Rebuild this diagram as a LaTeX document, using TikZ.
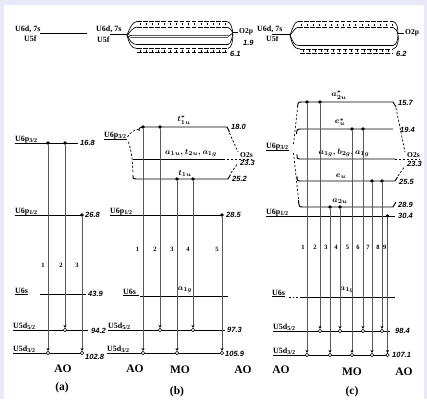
\documentclass[tikz,border=0pt]{standalone}
\usepackage{fontspec}
\setmainfont{Liberation Serif}
\newfontfamily\numfont{Liberation Sans}
\usetikzlibrary{arrows.meta}
\definecolor{bgc}{RGB}{231,233,249}
\newcommand{\tickband}[4]{%
  \draw[line width=0.65pt, dash pattern=on 4.5pt off 1.6pt] (#1,#3) -- (#2,#3);
  \draw[line width=0.65pt, dash pattern=on 4.5pt off 1.6pt] (#1,#4) -- (#2,#4);
  \draw[line width=2.0pt, dash pattern=on 0.8pt off 5.3pt] (#1+2.5,{(#3+#4)/2}) -- (#2,{(#3+#4)/2});
}
\tikzset{
  lvl/.style={line width=0.95pt},
  trn/.style={line width=1pt, draw=black!65, -{Stealth[length=2.8pt,width=3pt,black]}},
  fdot/.style={circle, fill=black, inner sep=0pt, minimum size=3.8pt},
  odot/.style={circle, draw=black, fill=white, line width=0.6pt, inner sep=0pt, minimum size=3.6pt},
  lab/.style={font=\bfseries\fontsize{8}{9}\selectfont, inner sep=0pt},
  num/.style={font=\numfont\bfseries\itshape\fontsize{7.5}{8}\selectfont, inner sep=0pt, anchor=west},
  tnum/.style={font=\bfseries\fontsize{6.5}{7}\selectfont, inner sep=0pt},
  orb/.style={font=\boldmath\fontsize{8}{9}\selectfont, inner sep=0pt},
  bigl/.style={font=\bfseries\fontsize{11.5}{13}\selectfont, inner sep=0pt},
  dsh/.style={line width=0.7pt, dash pattern=on 2.2pt off 1.8pt},
  thk/.style={line width=0.9pt, double distance=0.9pt},
  thn/.style={line width=0.65pt}
}
\begin{document}
\begin{tikzpicture}[x=1pt,y=-1pt]
\useasboundingbox (0,0) rectangle (427,399);
\fill[bgc] (0,0) rectangle (427,399);
\fill[white] (4,5) rectangle (424,399);

%%%%%%%%%%%%%%%% PANEL A %%%%%%%%%%%%%%%%
\node[lab,anchor=south west] (aUd) at (15,32.5) {U6d, 7s};
\node[lab,anchor=north west] (aUf) at (24,35.5) {U5f};
\coordinate (aT1) at (40,34); \coordinate (aT2) at (87,34);
\draw[thk] (aT1) -- (aT2);

\node[lab,anchor=south west] (aP3) at (15,143) {U6p\textsubscript{3/2}};
\coordinate (aP3e) at (78,143);
\draw[lvl] (aP3.south west) -- (aP3e);
\node[num] (aP3n) at (80,143) {16.8};

\node[lab,anchor=south west] (aP1) at (15,215) {U6p\textsubscript{1/2}};
\coordinate (aP1e) at (82,215);
\draw[lvl] (aP1.south west) -- (aP1e);
\node[num] (aP1n) at (85,215) {26.8};

\node[lab,anchor=south west] (aS) at (15,294) {U6s};
\draw[lvl] (aS.south west) -- (aS.south east);
\coordinate (aSa) at (40,294); \coordinate (aSb) at (86,294);
\draw[lvl] (aSa) -- (aSb);
\node[num] (aSn) at (88,294) {43.9};

\node[lab,anchor=south west] (aD5) at (13,330) {U5d\textsubscript{5/2}};
\coordinate (aD5e) at (88,330);
\draw[lvl] (aD5.south west) -- (aD5e);
\node[num] (aD5n) at (91,331) {94.2};

\node[lab,anchor=south west] (aD3) at (13,353) {U5d\textsubscript{3/2}};
\coordinate (aD3e) at (82,353);
\draw[lvl] (aD3.south west) -- (aD3e);
\node[num] (aD3n) at (85,357) {102.8};

\node[fdot] (a1s) at (48,143) {};
\node[fdot] (a2s) at (65,143) {};
\node[fdot] (a3s) at (82,215) {};
\node[odot] (a2e) at (65,330) {};
\node[odot] (a1e) at (48,353) {};
\node[odot] (a3e) at (82,353) {};
\draw[trn] (a1s) -- (a1e);
\draw[trn] (a2s) -- (a2e);
\draw[trn] (a3s) -- (a3e);
\node[tnum] (at1) at (43,265) {1};
\node[tnum] (at2) at (61,265) {2};
\node[tnum] (at3) at (77,265) {3};

\node[bigl] (aAO) at (63,369) {AO};
\node[bigl] (aCap) at (62,388) {(a)};

%%%%%%%%%%%%%%%% PANEL B %%%%%%%%%%%%%%%%
\node[lab,anchor=south west] (bUd) at (96,33) {U6d, 7s};
\node[lab,anchor=north west] (bUf) at (97,37) {U5f};
\coordinate (bT0) at (110,35); \coordinate (bJ) at (127,35);
\draw[thk] (bT0) -- (bJ);
\tickband{137}{227}{21.5}{27}
\draw[thn] (bJ) .. controls (130,28) and (132,22) .. (137,21.5);
\draw[thn] (bJ) .. controls (131,31) and (133,27.5) .. (137,27);
\draw[thk,line width=0.7pt] (bJ) .. controls (130,36.5) .. (136,36.5) -- (228,36.5);
\draw[thn] (bJ) .. controls (130,41) and (132,44.5) .. (137,44.5) -- (228,44.5);
\tickband{137}{228}{48.5}{52.5}
\draw[thn] (bJ) .. controls (129,43) and (131,48.5) .. (137,48.5);
\coordinate (bK) at (233,33);
\draw[thn] (227,21.5) .. controls (231,22) and (232,28) .. (bK);
\draw[thn] (227,27) .. controls (230,27.5) and (231,30) .. (bK);
\draw[thn] (228,36.5) -- (bK);
\draw[thn] (228,44.5) .. controls (231,44) and (232,38) .. (bK);
\draw[thn] (228,48.5) .. controls (232,48) and (233,40) .. (bK);
\coordinate (bK2) at (238,33);
\draw[thk] (bK) -- (bK2);
\node[num,font=\bfseries\fontsize{7.5}{8}\selectfont] (bO2p) at (239,32) {O2p};
\node[num] (bn19) at (243,43) {1.9};
\node[num] (bn61) at (230,54) {6.1};

\node[lab,anchor=south west] (bP3) at (104,139) {U6p\textsubscript{3/2}};
\draw[lvl] (bP3.south west) -- (bP3.south east);

\coordinate (bL1a) at (142,127); \coordinate (bL1b) at (227,127);
\draw[lvl] (139,131) .. controls (139,128) .. (bL1a) -- (bL1b) -- (229.5,132);
\node[orb] (bL1t) at (184,120) {$t_{1u}^{*}$};
\node[num] (bL1n) at (231,127) {18.0};

\coordinate (bL2a) at (133,159); \coordinate (bL2b) at (223,159);
\draw[lvl] (bL2a) -- (bL2b);
\coordinate (bL2c) at (252,159);
\draw[dsh,line width=0.9pt] (bL2b) -- (bL2c);
\node[orb] (bL2t) at (191,153) {$a_{1u}, t_{2u}, a_{1g}$};
\node[lab,anchor=south west,font=\bfseries\fontsize{7.5}{8}\selectfont] (bO2s) at (240,158) {O2s};
\node[num] (bn233) at (240,163) {23.3};

\coordinate (bL3a) at (136,179); \coordinate (bL3b) at (228,179);
\draw[lvl] (133,175) .. controls (133,179) .. (bL3a) -- (bL3b) -- (230.5,174.5);
\node[orb] (bL3t) at (185,173) {$t_{1u}$};
\node[num] (bL3n) at (232,179) {25.2};

\coordinate (bO) at (238,152);
\coordinate (bO3) at (238,163);
\draw[dsh] (229.5,133) -- (bO);
\draw[dsh] (231,173) -- (bO3);
\coordinate (bPL) at (127.5,137);
\coordinate (bPL2) at (128.5,142);
\draw[dsh] (bPL) .. controls (132,131) .. (139,129);
\draw[dsh] (bPL2) .. controls (132,155) .. (133,173);

\node[lab,anchor=south west] (bP1) at (110,215) {U6p\textsubscript{1/2}};
\coordinate (bP1e) at (222,215);
\draw[lvl] (bP1.south west) -- (bP1e);
\node[num] (bP1n) at (226,215) {28.5};

\node[lab,anchor=south west] (bS) at (123,295) {U6s};
\draw[lvl] (bS.south west) -- (bS.south east);
\draw[lvl] (135,295.5) -- (138.5,295.5);
\coordinate (bSa) at (140,296); \coordinate (bSb) at (228,296);
\draw[lvl] (bSa) -- (bSb);
\node[orb] (bSt) at (185,290) {$a_{1g}$};

\node[lab,anchor=south west] (bD5) at (108,330) {U5d\textsubscript{5/2}};
\coordinate (bD5e) at (225,330);
\draw[lvl] (bD5.south west) -- (bD5e);
\node[num] (bD5n) at (227,330) {97.3};

\node[lab,anchor=south west] (bD3) at (107,353) {U5d\textsubscript{3/2}};
\coordinate (bD3e) at (222,353);
\draw[lvl] (bD3.south west) -- (bD3e);
\node[num] (bD3n) at (225,354) {105.9};

\node[fdot] (b1s) at (143,127) {};
\node[fdot] (b2s) at (160,127) {};
\node[fdot] (b3s) at (177,179) {};
\node[fdot] (b4s) at (193,179) {};
\node[fdot] (b5s) at (222,215) {};
\node[odot] (b2e) at (160,330) {};
\node[odot] (b4e) at (193,330) {};
\node[odot] (b1e) at (143,353) {};
\node[odot] (b3e) at (177,353) {};
\node[odot] (b5e) at (222,353) {};
\draw[trn] (b1s) -- (b1e);
\draw[trn] (b2s) -- (b2e);
\draw[trn] (b3s) -- (b3e);
\draw[trn] (b4s) -- (b4e);
\draw[trn] (b5s) -- (b5e);
\node[tnum] (bt1) at (137.5,249) {1};
\node[tnum] (bt2) at (155,249) {2};
\node[tnum] (bt3) at (172,249) {3};
\node[tnum] (bt4) at (188,249) {4};
\node[tnum] (bt5) at (217,249) {5};

\node[bigl] (bAOl) at (135,369) {AO};
\node[bigl] (bMO) at (180,370) {MO};
\node[bigl] (bAOr) at (243,370) {AO};
\node[bigl] (bCap) at (177,392) {(b)};

%%%%%%%%%%%%%%%% PANEL C %%%%%%%%%%%%%%%%
\node[lab,anchor=south west] (cUd) at (257,32.5) {U6d, 7s};
\node[lab,anchor=north west] (cUf) at (266,36) {U5f};
\coordinate (cT0) at (272,35); \coordinate (cJ) at (290,35);
\draw[thk] (cT0) -- (cJ);
\tickband{298}{393}{21.5}{27.5}
\draw[thn] (cJ) .. controls (293,28) and (294,22) .. (298,21.5);
\draw[thn] (cJ) .. controls (294,31) and (295,27.5) .. (298,27.5);
\draw[thn] (cJ) .. controls (293,42) and (294,45.5) .. (299,45.5) -- (393,45.5);
\tickband{300}{393}{49}{53}
\draw[thn] (cJ) .. controls (292,44) and (294,49) .. (300,49);
\coordinate (cK) at (398,34);
\draw[thn] (393,21.5) .. controls (397,22) and (398,28) .. (cK);
\draw[thn] (393,27.5) .. controls (396,28) and (397,31) .. (cK);
\draw[thn] (393,45.5) .. controls (397,45) and (398,39) .. (cK);
\draw[thn] (393,49) .. controls (398,48) and (399,40) .. (cK);
\coordinate (cK2) at (404,34);
\draw[thk] (cK) -- (cK2);
\node[num,font=\bfseries\fontsize{7.5}{8}\selectfont] (cO2p) at (405,33) {O2p};
\node[num] (cn62) at (396,54) {6.2};

\node[lab,anchor=south west] (cP3) at (266,150) {U6p\textsubscript{3/2}};
\draw[lvl] (cP3.south west) -- (cP3.south east);

\coordinate (cL1a) at (302,102); \coordinate (cL1b) at (393,102);
\draw[lvl] (297.5,107.5) .. controls (298,102) .. (cL1a) -- (cL1b) -- (396,107);
\node[orb] (cL1t) at (339,95) {$a_{2u}^{*}$};
\node[num] (cL1n) at (398,103) {15.7};

\coordinate (cL2a) at (301,129); \coordinate (cL2b) at (393,129);
\draw[lvl] (296.5,134) .. controls (297,129) .. (cL2a) -- (cL2b);
\node[orb] (cL2t) at (340,122) {$e_{u}^{*}$};
\node[num] (cL2n) at (400,130) {19.4};

\coordinate (cL3a) at (300,159); \coordinate (cL3b) at (395,159);
\draw[lvl] (297,154) .. controls (297,159) .. (cL3a) -- (cL3b);
\coordinate (cL3c) at (420,159);
\draw[dsh,line width=0.9pt] (cL3b) -- (cL3c);
\node[orb] (cL3t) at (344,153) {$a_{1g}, b_{2g}, a_{1g}$};
\node[lab,anchor=south west,font=\bfseries\fontsize{7.5}{8}\selectfont] (cO2s) at (407,158) {O2s};
\node[num] (cn233) at (407,164) {23.3};

\coordinate (cL4a) at (301,181); \coordinate (cL4b) at (395,181);
\draw[lvl] (297,176) .. controls (297,181) .. (cL4a) -- (cL4b) -- (397.5,177);
\node[orb] (cL4t) at (341,176) {$e_{u}$};
\node[num] (cL4n) at (399,182) {25.5};

\coordinate (cL5a) at (303,207); \coordinate (cL5b) at (393,207);
\draw[lvl] (298.5,200) .. controls (299,207) .. (cL5a) -- (cL5b) -- (396,202);
\node[orb] (cL5t) at (340,201) {$a_{2u}$};
\node[num] (cL5n) at (398,205) {28.9};

\coordinate (cO) at (405,152);
\coordinate (cO3) at (405,166);
\draw[dsh] (396,108) -- (cO);
\draw[dsh] (398,176) -- (cO3);
\coordinate (cPL) at (293.5,144);
\coordinate (cPL2) at (293.5,153);
\draw[dsh] (cPL) -- (297.5,108.5);
\draw[dsh] (cPL2) -- (298.5,199);

\node[lab,anchor=south west] (cP1) at (266,216) {U6p\textsubscript{1/2}};
\coordinate (cP1e) at (395,216);
\draw[lvl] (cP1.south west) -- (cP1e);
\node[num] (cP1n) at (398,216) {30.4};

\node[lab,anchor=south west] (cS) at (272,296) {U6s};
\draw[lvl] (cS.south west) -- (cS.south east);
\draw[lvl, dash pattern=on 1.5pt off 2pt] (289,297) -- (300,297);
\coordinate (cSa) at (300,297); \coordinate (cSb) at (395,297);
\draw[lvl] (cSa) -- (cSb);
\node[orb] (cSt) at (347,290) {$a_{1g}$};

\node[lab,anchor=south west] (cD5) at (273,331) {U5d\textsubscript{5/2}};
\coordinate (cD5e) at (390,331);
\draw[lvl] (cD5.south west) -- (cD5e);
\node[num] (cD5n) at (395,331) {98.4};

\node[lab,anchor=south west] (cD3) at (273,355) {U5d\textsubscript{3/2}};
\coordinate (cD3e) at (388,355);
\draw[lvl] (cD3.south west) -- (cD3e);
\node[num] (cD3n) at (392,355) {107.1};

\node[fdot] (c1s) at (307,102) {};
\node[fdot] (c2s) at (320,102) {};
\node[fdot] (c3s) at (330,207) {};
\node[fdot] (c4s) at (340,207) {};
\node[fdot] (c5s) at (352,129) {};
\node[fdot] (c6s) at (363,129) {};
\node[fdot] (c7s) at (372,181) {};
\node[fdot] (c8s) at (382,181) {};
\node[fdot] (c9s) at (387.5,216) {};
\node[odot] (c2e) at (320,331) {};
\node[odot] (c4e) at (340,331) {};
\node[odot] (c6e) at (363,331) {};
\node[odot] (c8e) at (382,331) {};
\node[odot] (c1e) at (307,355) {};
\node[odot] (c3e) at (330,355) {};
\node[odot] (c5e) at (352,355) {};
\node[odot] (c7e) at (372,355) {};
\node[odot] (c9e) at (387.5,355) {};
\foreach \i in {1,...,9}{\draw[trn] (c\i s) -- (c\i e);}
\node[tnum] (ct1) at (303,247) {1};
\node[tnum] (ct2) at (315,247) {2};
\node[tnum] (ct3) at (326,247) {3};
\node[tnum] (ct4) at (336,247) {4};
\node[tnum] (ct5) at (347.5,247) {5};
\node[tnum] (ct6) at (358,247) {6};
\node[tnum] (ct7) at (368,247) {7};
\node[tnum] (ct8) at (378,247) {8};
\node[tnum] (ct9) at (384.8,247) {9};

\node[bigl] (cAOl) at (281,370) {AO};
\node[bigl] (cMO) at (352,372) {MO};
\node[bigl] (cAOr) at (404,372) {AO};
\node[bigl] (cCap) at (352,392) {(c)};
\end{tikzpicture}
\end{document}
